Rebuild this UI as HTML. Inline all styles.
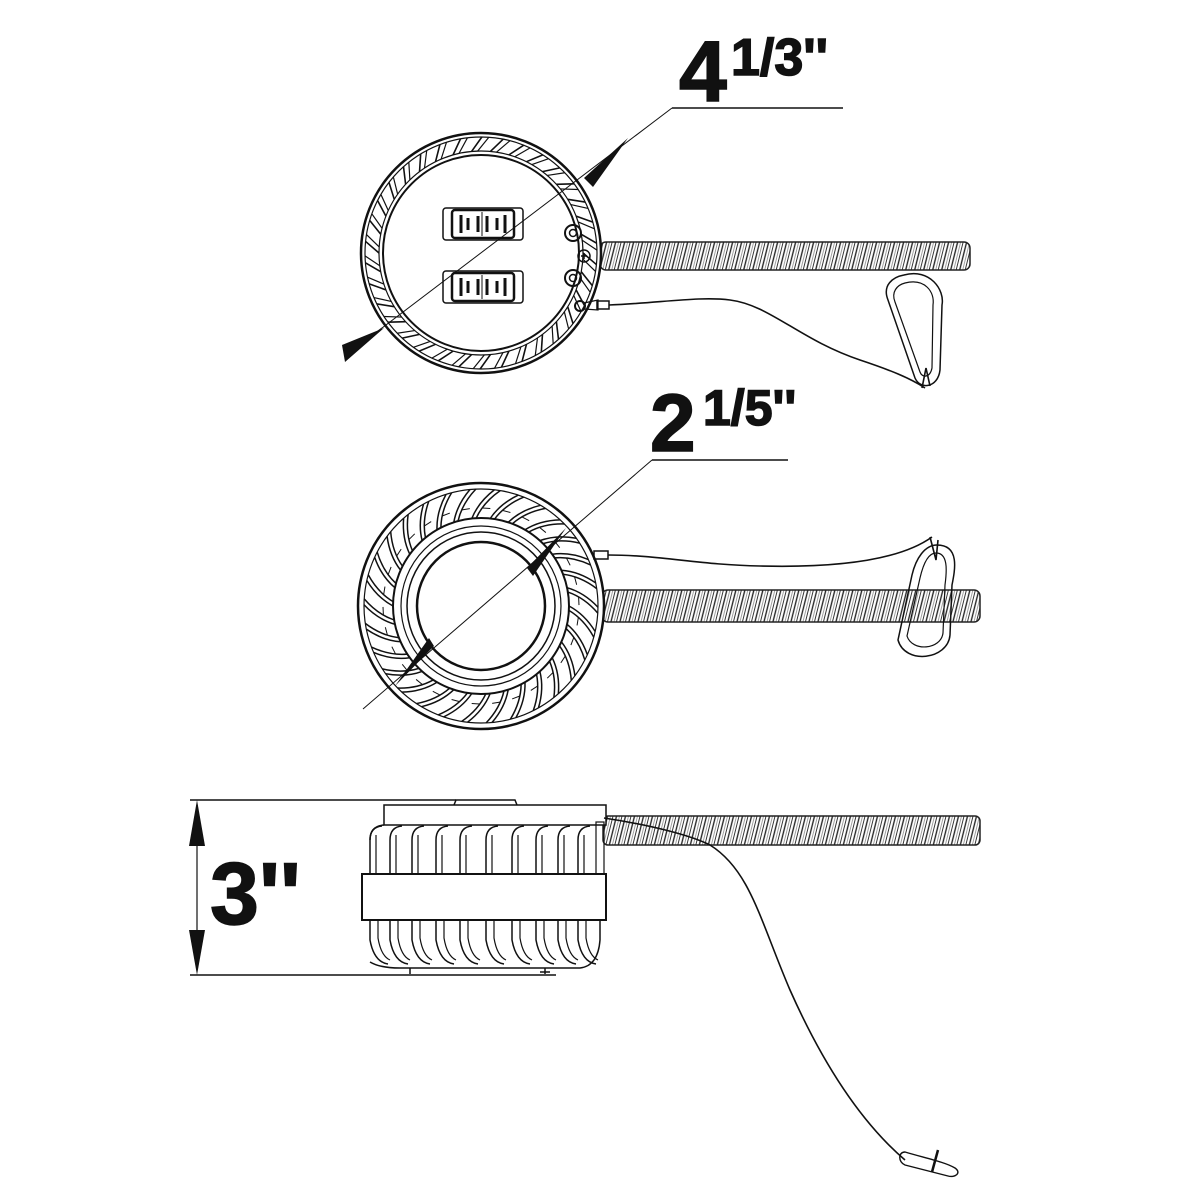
<!DOCTYPE html>
<html><head><meta charset="utf-8"><style>
html,body{margin:0;padding:0;background:#fff;}
svg{display:block}
text{font-family:"Liberation Sans",sans-serif;font-weight:bold;fill:#111}
</style></head><body>
<svg id="s" width="1200" height="1200" viewBox="0 0 1200 1200" xmlns="http://www.w3.org/2000/svg" fill="none" stroke="#111" stroke-width="1.5">
<defs>
<pattern id="coil" width="9" height="40" patternUnits="userSpaceOnUse" patternTransform="skewX(-14)">
<rect width="9" height="40" fill="#fff" stroke="none"/>
<line x1="1" y1="0" x2="1" y2="40" stroke="#222" stroke-width="1.4"/>
<line x1="4" y1="0" x2="4" y2="40" stroke="#777" stroke-width="0.7"/>
<line x1="6.5" y1="0" x2="6.5" y2="40" stroke="#333" stroke-width="1"/>
</pattern>
</defs>

<!-- TOP VIEW -->
<rect x="600" y="242" width="370" height="28" rx="6" fill="url(#coil)" stroke="#222"/>
<circle cx="481" cy="253" r="120" stroke-width="2.5" fill="#fff"/>
<circle cx="481" cy="253" r="116" stroke-width="1.2"/>
<circle cx="481" cy="253" r="102" stroke-width="1.2"/>
<circle cx="481" cy="253" r="98" stroke-width="2"/>
<g id="topribs"></g>
<rect x="443" y="208" width="80" height="32" rx="3"/>
<rect x="452" y="210" width="62" height="28" rx="3" stroke-width="2.5"/>
<rect x="443" y="271" width="80" height="32" rx="3"/>
<rect x="452" y="273" width="62" height="28" rx="3" stroke-width="2.5"/>
<g stroke-width="3">
<line x1="461" y1="215" x2="461" y2="233"/><line x1="468" y1="218" x2="468" y2="230"/><line x1="478" y1="216" x2="478" y2="232"/><line x1="487" y1="216" x2="487" y2="232"/><line x1="497" y1="218" x2="497" y2="230"/><line x1="505" y1="215" x2="505" y2="233"/>
<line x1="461" y1="278" x2="461" y2="296"/><line x1="468" y1="281" x2="468" y2="293"/><line x1="478" y1="279" x2="478" y2="295"/><line x1="487" y1="279" x2="487" y2="295"/><line x1="497" y1="281" x2="497" y2="293"/><line x1="505" y1="278" x2="505" y2="296"/>
</g>
<line x1="482" y1="212" x2="482" y2="236" stroke-width="1"/><line x1="482" y1="275" x2="482" y2="299" stroke-width="1"/>
<circle cx="573" cy="233" r="8" stroke-width="2"/><circle cx="573" cy="233" r="3.5"/>
<circle cx="573" cy="278" r="8" stroke-width="2"/><circle cx="573" cy="278" r="3.5"/>
<circle cx="584" cy="256" r="6"/><path d="M581 256h6M584 253v6"/>
<circle cx="580" cy="306" r="5" stroke-width="2"/>
<path d="M584 303 L598 300 L598 310 L584 309" stroke-width="1.2"/>
<rect x="597" y="301" width="12" height="8"/>
<path d="M609 305 C660 303 700 296 730 300 C770 305 800 340 860 360 C890 370 910 378 925 388" stroke-width="1.6"/>
<path d="M904 275 C930 268 945 290 942 305 L940 370 C938 388 920 390 915 378 L888 300 C882 285 893 277 904 275 Z" stroke-width="1.5"/>
<path d="M905 283 C925 278 935 292 933 305 L932 368 C930 378 922 378 920 372 L895 302 C891 292 897 285 905 283 Z" stroke-width="1.2"/>
<path d="M922 388 L926 368 L930 386" stroke-width="1.6"/>
<line x1="345" y1="356" x2="672" y2="108" stroke-width="1"/>
<line x1="672" y1="108" x2="843" y2="108" stroke-width="1.5"/>
<polygon points="345,362 342,345 384,328" fill="#111" stroke="none"/>
<polygon points="628,138 584,178 593,187" fill="#111" stroke="none"/>
<text x="679" y="101" font-size="86">4</text>
<text x="731" y="75" font-size="52">1/3''</text>

<!-- MIDDLE VIEW -->
<rect x="602" y="590" width="378" height="32" rx="6" fill="url(#coil)" stroke="#222"/>
<circle cx="481" cy="606" r="123" stroke-width="2.5" fill="#fff"/>
<circle cx="481" cy="606" r="117" stroke-width="1.2"/>
<g id="midribs"></g>
<circle cx="481" cy="606" r="88" stroke-width="2"/>
<circle cx="481" cy="606" r="80" stroke-width="1.2"/>
<circle cx="481" cy="606" r="74" stroke-width="1.5"/>
<circle cx="481" cy="606" r="64" stroke-width="2.5" fill="#fff"/>
<rect x="594" y="551" width="14" height="8"/>
<path d="M608 555 C660 555 700 565 760 566 C840 568 900 560 932 537" stroke-width="1.6"/>
<path d="M937 545 C960 545 955 570 952 585 L950 635 C948 660 905 665 898 640 L912 575 C916 558 925 545 937 545 Z" stroke-width="1.5"/>
<path d="M936 553 C948 553 947 570 945 585 L943 633 C941 650 912 652 907 636 L920 578 C923 565 928 553 936 553 Z" stroke-width="1.2"/>
<path d="M930 537 L936 560 L938 540" stroke-width="1.6"/>
<line x1="363" y1="709" x2="652" y2="460" stroke-width="1"/>
<line x1="652" y1="460" x2="788" y2="460" stroke-width="1.5"/>
<polygon points="566,528 527,568 533,576" fill="#111" stroke="none"/>
<polygon points="395,686 434,646 429,638" fill="#111" stroke="none"/>
<text x="650" y="451" font-size="82">2</text>
<text x="703" y="425" font-size="50">1/5''</text>

<!-- SIDE VIEW -->
<rect x="603" y="816" width="377" height="29" rx="5" fill="url(#coil)" stroke="#222"/>
<line x1="190" y1="800" x2="456" y2="800" stroke-width="1.5"/>
<line x1="190" y1="975" x2="556" y2="975" stroke-width="1.5"/>
<line x1="197" y1="805" x2="197" y2="970" stroke-width="1.2"/>
<polygon points="197,800 189,846 205,846" fill="#111" stroke="none"/>
<polygon points="197,975 189,930 205,930" fill="#111" stroke="none"/>
<text x="210" y="924" font-size="88">3''</text>
<path d="M454 805 L456 800 L515 800 L517 805" stroke-width="1.5"/>
<rect x="384" y="805" width="222" height="20" stroke-width="1.5" fill="#fff"/>
<g id="sideribs"></g>
<rect x="362" y="874" width="244" height="46" stroke-width="2" fill="#fff"/>
<path d="M410 968v6 M545 968v6 M540 972h10" stroke-width="1.5"/>
<path d="M604 818 C650 825 690 835 710 845 C750 870 760 920 790 990 C830 1080 870 1130 905 1160" stroke-width="1.6"/>
<path d="M905 1152 C925 1158 945 1162 955 1168 C962 1173 955 1178 948 1176 L905 1165 C898 1162 898 1152 905 1152 Z" stroke-width="1.4"/>
<line x1="938" y1="1150" x2="932" y2="1172" stroke-width="2.5"/>
</svg>
<script>
var ns="http://www.w3.org/2000/svg";
function add(g,tag,a){var e=document.createElementNS(ns,tag);for(var k in a)e.setAttribute(k,a[k]);document.getElementById(g).appendChild(e);}
for(var i=0;i<34;i++){var t=i/34*Math.PI*2;var cx=481,cy=253;
 var a1=t, a2=t+0.1;
 add("topribs","line",{x1:cx+Math.cos(a1)*102,y1:cy+Math.sin(a1)*102,x2:cx+Math.cos(a2)*116,y2:cy+Math.sin(a2)*116,"stroke-width":1.6});
 add("topribs","line",{x1:cx+Math.cos(a1+0.06)*102,y1:cy+Math.sin(a1+0.06)*102,x2:cx+Math.cos(a2+0.06)*116,y2:cy+Math.sin(a2+0.06)*116,"stroke-width":1.2});}
for(var i=0;i<30;i++){var t=i/30*Math.PI*2;var cx=481,cy=606;
 for(var j=0;j<2;j++){var o=j*0.05;
 add("midribs","path",{d:"M"+(cx+Math.cos(t+o)*88)+" "+(cy+Math.sin(t+o)*88)+" Q"+(cx+Math.cos(t+o+0.08)*104)+" "+(cy+Math.sin(t+o+0.08)*104)+" "+(cx+Math.cos(t+o+0.22)*117)+" "+(cy+Math.sin(t+o+0.22)*117),"stroke-width":1.5});}
 add("midribs","line",{x1:cx+Math.cos(t+0.12)*98,y1:cy+Math.sin(t+0.12)*98,x2:cx+Math.cos(t+0.2)*98,y2:cy+Math.sin(t+0.2)*98,"stroke-width":1});}
var xs=[370,390,412,436,460,486,512,536,558,578];
xs.forEach(function(x,i){
 add("sideribs","path",{d:"M"+x+" 874 L"+x+" 840 Q"+x+" 827 "+(x+12)+" 826","stroke-width":1.5});
 add("sideribs","line",{x1:x+6,y1:874,x2:x+6,y2:835,"stroke-width":1.2});
 add("sideribs","path",{d:"M"+x+" 920 L"+x+" 940 Q"+(x+4)+" 962 "+(x+18)+" 964","stroke-width":1.5});
 add("sideribs","path",{d:"M"+(x+8)+" 920 L"+(x+8)+" 938 Q"+(x+11)+" 956 "+(x+20)+" 960","stroke-width":1.2});
});
add("sideribs","path",{d:"M370 962 Q380 968 400 968 L580 968 Q598 966 600 940 L600 920","stroke-width":1.5});
add("sideribs","path",{d:"M370 840 Q370 826 384 825","stroke-width":1.5});
add("sideribs","rect",{x:596,y:822,width:8,height:52,"stroke-width":1.2});
</script>
</body></html>
